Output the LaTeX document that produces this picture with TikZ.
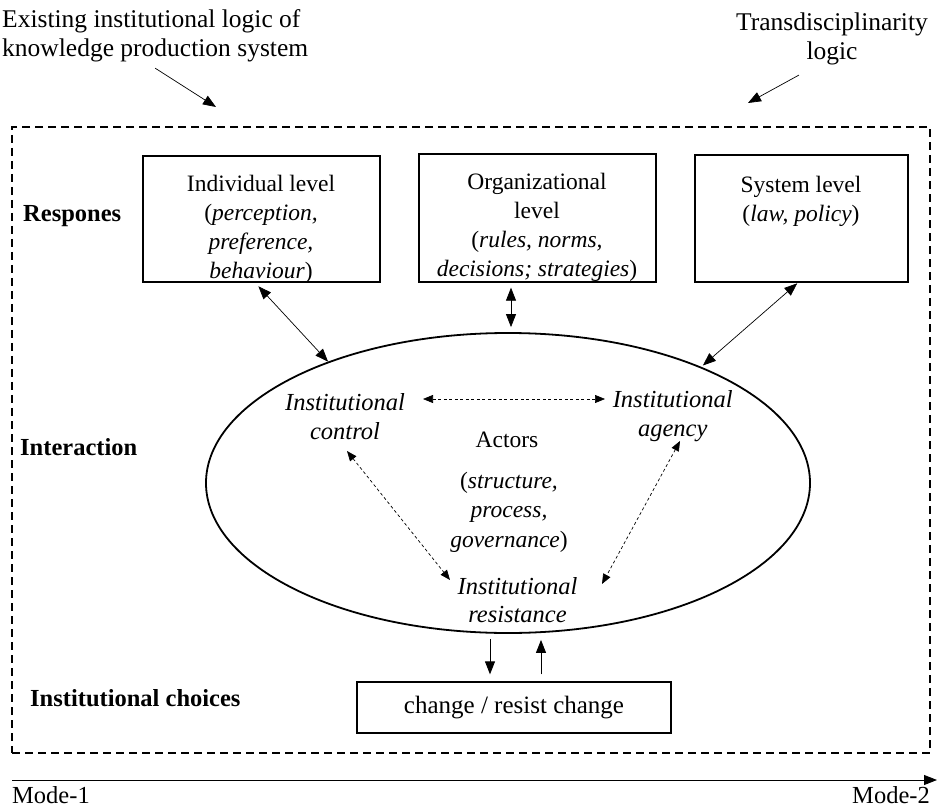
\documentclass[tikz,border=0pt]{standalone}
\usepackage{fontspec}
\setmainfont{Liberation Serif}
\usetikzlibrary{arrows.meta,shapes.geometric}
\begin{document}
\begin{tikzpicture}[x=1pt,y=1pt,
  every node/.style={font=\fontsize{23.5}{29}\selectfont, inner sep=0pt},
  txt/.style={align=center},
  ttl/.style={font=\fontsize{25.5}{28.5}\selectfont},
  itx/.style={align=center, font=\fontsize{24.5}{28.5}\selectfont\itshape},
  lbl/.style={font=\fontsize{24.5}{29}\selectfont\bfseries, anchor=west},
  lvlbox/.style={draw, line width=1.3pt},
  frame/.style={draw, line width=2pt, dash pattern=on 8pt off 5pt},
  tipA/.tip={Triangle[length=13pt,width=10pt]},
  tipB/.tip={Triangle[length=10pt,width=8pt]},
  onearr/.style={line width=0.7pt, -tipA},
  dblarr/.style={line width=0.7pt, tipA-tipA},
  dasharr/.style={line width=0.7pt, dash pattern=on 3pt off 2.5pt, tipB-tipB},
  botarr/.style={line width=0.9pt, -tipA}]
\useasboundingbox (0,0) rectangle (941,807);

% titles
\node[ttl, anchor=west, align=left] (titleL) at (2,771) {Existing institutional logic of\\knowledge production system};
\node[ttl, txt] (titleR) at (832,768) {Transdisciplinarity\\logic};
\coordinate (tipL) at (216,700);
\coordinate (tipR) at (748,704);
\draw[onearr] ([xshift=0pt,yshift=-6pt]titleL.south) -- (tipL);
\draw[onearr] ([xshift=-33pt,yshift=-10pt]titleR.south) -- (tipR);

% frame
\node[frame, minimum width=918pt, minimum height=626pt] (frame) at (471,367) {};

% row labels
\node[lbl] (resp) at (23,591) {Respones};
\node[lbl] (inter) at (20,360) {Interaction};
\node[lbl] (choice) at (30,109) {Institutional choices};

% level boxes
\node[lvlbox, minimum width=237pt, minimum height=126pt] (ind) at (261.5,588) {};
\node[lvlbox, minimum width=237pt, minimum height=128pt] (org) at (537.5,589) {};
\node[lvlbox, minimum width=213pt, minimum height=127pt] (sys) at (801.5,588.5) {};
\node[txt] (indT) at (261,578) {Individual level\\(\textit{perception,}\\\textit{preference,}\\\textit{behaviour})};
\node[txt] (orgT) at (537,580) {Organizational\\level\\(\textit{rules, norms,}\\\textit{decisions; strategies})};
\node[txt] (sysT) at (801,606) {System level\\(\textit{law, policy})};

% ellipse
\node[ellipse, draw, line width=1.8pt, minimum width=604pt, minimum height=300pt] (ell) at (508,324) {};

% inner texts
\node[itx] (cont) at (345,390.5) {Institutional\\control};
\node[itx] (agen) at (672.7,391) {Institutional\\agency};
\node (act) at (507,367) {Actors};
\node[txt, font=\fontsize{23.5}{29.5}\selectfont] (actT) at (509,295) {(\textit{structure,}\\\textit{process,}\\\textit{governance})};
\node[itx] (res) at (517.5,207) {Institutional\\resistance};

% connectors boxes <-> ellipse
\draw[dblarr, shorten <=5pt] ([xshift=-6.5pt]ind.south) -- (ell.146);
\draw[dblarr, shorten <=5pt, shorten >=5pt] ([xshift=-26.5pt]org.south) -- ([xshift=-26.5pt]org.south |- ell.north);
\draw[dblarr, shorten <=1pt, shorten >=2pt] ([xshift=-3.5pt]sys.south) -- (ell.31);

% dashed arrows inside
\draw[dasharr] ([xshift=78pt,yshift=17.5pt]cont.center) -- ([xshift=-67.7pt,yshift=17pt]agen.center);
\draw[dasharr] ([xshift=2pt,yshift=-34.5pt]cont.center) -- ([xshift=-67.5pt,yshift=20pt]res.center);
\draw[dasharr] ([xshift=7.3pt,yshift=-25pt]agen.center) -- ([xshift=84.5pt,yshift=16pt]res.center);

% choice box
\node[lvlbox, minimum width=314pt, minimum height=51pt, font=\fontsize{25}{29}\selectfont] (chg) at (514,99.5) {change / resist change};
\draw[botarr, shorten <=5pt, shorten >=7pt] ([xshift=-18pt]ell.south) -- ([xshift=-24pt]chg.north);
\draw[botarr, shorten <=7pt, shorten >=6pt] ([xshift=27pt]chg.north) -- ([xshift=33pt]ell.south);

% mode axis
\node[anchor=base west, font=\fontsize{24.5}{29}\selectfont] (m1) at (12,4) {Mode-1};
\node[anchor=base east, font=\fontsize{24.5}{29}\selectfont] (m2) at (930,4) {Mode-2};
\coordinate (axR) at (937,27);
\draw[line width=0.9pt, -{Triangle[length=13pt,width=10pt]}] (m1.north west |- axR) -- (axR);
\end{tikzpicture}
\end{document}
